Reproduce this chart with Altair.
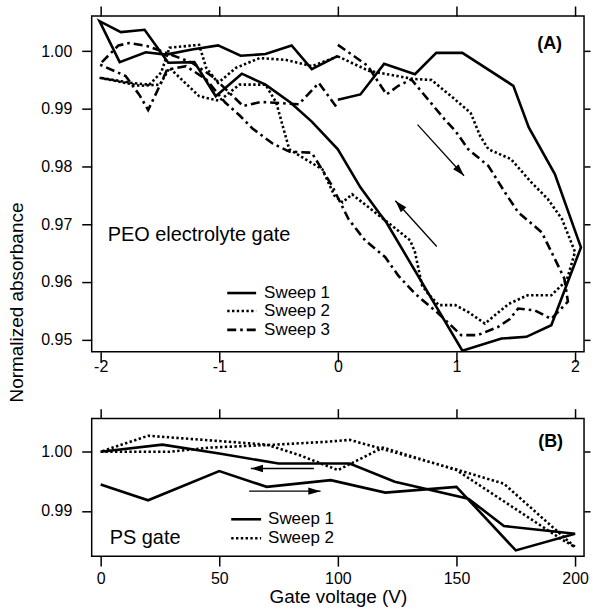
import math
import altair as alt
import pandas as pd

FONT = "Liberation Sans"

# ---------------- Panel (A): PEO electrolyte gate, sweeps 0 -> +2 -> -2 -> 0 V ----------------
a1_v = [0.00, 0.19, 0.39, 0.65, 0.83, 1.05, 1.48, 1.61, 1.83, 2.05, 1.80, 1.59, 1.38, 1.05,
        0.41, 0.35, 0.19, 0.00, -0.22, -0.40, -0.61, -0.81, -1.03, -1.21, -1.43, -1.63, -1.83,
        -2.01, -1.84, -1.62, -1.45, -1.23, -1.01, -0.82, -0.61, -0.39, -0.22, 0.00]
a1_a = [0.9916, 0.9925, 0.9978, 0.9960, 0.9997, 0.9997, 0.9940, 0.9868, 0.9787, 0.9660, 0.9525,
        0.9505, 0.9502, 0.9481, 0.9703, 0.9719, 0.9764, 0.9830, 0.9878, 0.9911, 0.9942, 0.9961,
        0.9922, 0.9981, 0.9980, 1.0037, 1.0033, 1.0052, 0.9981, 0.9998, 0.9994, 1.0003, 1.0010,
        0.9992, 0.9995, 1.0010, 0.9969, 0.9992]

a2_v = [0.00, 0.26, 0.63, 0.79, 0.99, 1.12, 1.20, 1.27, 1.46, 1.63, 1.77, 1.89, 2.00, 1.93, 1.80,
        1.60, 1.44, 1.24, 1.10, 0.99, 0.85, 0.76, 0.71, 0.65, 0.61, 0.49, 0.12, 0.04, -0.03, -0.13,
        -0.41, -0.52, -0.61, -0.83, -1.00, -1.17, -1.42, -1.50, -1.67, -2.01, -1.74, -1.59, -1.49,
        -1.42, -1.17, -1.11, -1.01, -0.86, -0.66, -0.44, -0.22, 0.00]
a2_a = [0.9991, 0.9966, 0.9952, 0.9950, 0.9916, 0.9893, 0.9853, 0.9830, 0.9813, 0.9773, 0.9744,
        0.9709, 0.9652, 0.9603, 0.9577, 0.9577, 0.9562, 0.9528, 0.9548, 0.9560, 0.9560, 0.9580,
        0.9594, 0.9652, 0.9672, 0.9692, 0.9752, 0.9738, 0.9750, 0.9795, 0.9830, 0.9911, 0.9942,
        0.9942, 0.9914, 0.9922, 0.9971, 0.9942, 0.9940, 0.9954, 0.9945, 0.9942, 0.9963, 1.0006,
        1.0011, 0.9971, 0.9945, 0.9971, 0.9988, 0.9985, 0.9974, 0.9991]

a3_v = [0.00, 0.25, 0.41, 0.51, 0.62, 0.90, 0.99, 1.10, 1.27, 1.41, 1.52, 1.72, 1.83, 1.91, 1.94,
        1.80, 1.66, 1.52, 1.45, 1.35, 1.18, 1.04, 0.85, 0.65, 0.51, 0.40, 0.23, 0.09, -0.05, -0.22,
        -0.41, -0.55, -0.72, -0.83, -0.95, -1.11, -1.28, -1.44, -1.53, -1.60, -1.67, -1.79, -2.01,
        -1.85, -1.76, -1.61, -1.42, -1.23, -1.05, -0.80, -0.65, -0.33, -0.16, 0.00]
a3_a = [1.0011, 0.9975, 0.9925, 0.9940, 0.9951, 0.9882, 0.9862, 0.9830, 0.9801, 0.9755, 0.9721,
        0.9686, 0.9640, 0.9606, 0.9566, 0.9536, 0.9551, 0.9554, 0.9536, 0.9522, 0.9508, 0.9508,
        0.9545, 0.9580, 0.9611, 0.9643, 0.9672, 0.9709, 0.9767, 0.9824, 0.9826, 0.9840, 0.9866,
        0.9889, 0.9911, 0.9951, 0.9974, 0.9968, 0.9928, 0.9898, 0.9923, 0.9957, 0.9977, 1.0010,
        1.0014, 1.0009, 0.9995, 0.9980, 0.9955, 0.9905, 0.9912, 0.9908, 0.9945, 0.9900]

# sweep-direction arrows (tail -> head)
arrA_v0 = [0.672, 0.834]
arrA_a0 = [0.98727, 0.96615]
arrA_v1 = [1.064, 0.485]
arrA_a1 = [0.97841, 0.97409]

# ---------------- Panel (B): PS gate, sweeps 0 -> 200 -> 0 V ----------------
b1_v = [0, 20, 50, 70, 97, 120, 150, 175, 200, 170, 155, 124, 105, 75, 50, 26, 0]
b1_a = [0.99446, 0.99180, 0.99673, 0.99407, 0.99520, 0.99310, 0.99407, 0.98334, 0.98616,
        0.98746, 0.99208, 0.99492, 0.99800, 0.99800, 0.99970, 1.00120, 1.00000]

b2_v = [0, 29, 46, 74, 96, 105, 150, 170, 200, 194, 150, 119, 100, 84, 70, 20, 0]
b2_a = [1.0000, 1.0000, 1.0007, 1.0012, 1.0017, 1.0020, 0.9970, 0.9946, 0.9839,
        0.9853, 0.9969, 1.0007, 0.9969, 0.9994, 1.0012, 1.0027, 1.0000]

arrB_v0 = [89.9, 62.6]
arrB_a0 = [0.99717, 0.99334]
arrB_v1 = [63.3, 92.7]
arrB_a1 = [0.99717, 0.99334]

legend_A = ["Sweep 1", "Sweep 2", "Sweep 3"]
legend_B = ["Sweep 1", "Sweep 2"]

# ---------------- geometry / styles ----------------
W = 494
HA, HB = 337, 138
XA = alt.Scale(domain=[-2.076, 2.076], nice=False, zero=False)
YA = alt.Scale(domain=[0.9479, 1.0061], nice=False, zero=False)
XB = alt.Scale(domain=[-3.78, 203.78], nice=False, zero=False)
YB = alt.Scale(domain=[0.98237, 1.00559], nice=False, zero=False)

SOLID = {}
DOTTED = {"strokeDash": [2.4, 2.4]}
DASHDOT = {"strokeDash": [9, 4, 2.6, 4]}
LW = 2.6
ARROW = "M0,0L-2,-0.6L-2,0.6Z"

A_xticks = [-2, -1, 0, 1, 2]
A_yticks = [0.95, 0.96, 0.97, 0.98, 0.99, 1.00]
B_xticks = [0, 50, 100, 150, 200]
B_yticks = [0.99, 1.00]


def sweep_frame(v, a):
    return pd.DataFrame({"v": v, "a": a, "i": list(range(len(v)))})


def sweep_line(v, a, style, xs, ys, xaxis=None, yaxis=None):
    return alt.Chart(sweep_frame(v, a)).mark_line(
        color="black", strokeWidth=LW, **style
    ).encode(
        x=alt.X("v:Q", scale=xs, axis=xaxis),
        y=alt.Y("a:Q", scale=ys, axis=yaxis),
        order="i:Q",
    )


def arrows(v0, a0, v1, a1, xs, ys, px_v, px_a):
    df = pd.DataFrame({"v0": v0, "a0": a0, "v1": v1, "a1": a1})
    df["ang"] = [
        math.degrees(math.atan2(-(y1 - y0) * px_a, (x1 - x0) * px_v)) % 360
        for x0, y0, x1, y1 in zip(v0, a0, v1, a1)
    ]
    shaft = alt.Chart(df).mark_rule(color="black", strokeWidth=1.3).encode(
        x=alt.X("v0:Q", scale=xs, axis=None),
        y=alt.Y("a0:Q", scale=ys, axis=None),
        x2="v1:Q",
        y2="a1:Q",
    )
    head = alt.Chart(df).mark_point(
        shape=ARROW, filled=True, size=150, color="black", opacity=1, strokeWidth=0
    ).encode(
        x=alt.X("v1:Q", scale=xs, axis=None),
        y=alt.Y("a1:Q", scale=ys, axis=None),
        angle=alt.Angle("ang:Q", scale=None),
    )
    return [shaft, head]


def key_entry(label, style, x0, x1, xt, y):
    df = pd.DataFrame({"t": [label]})
    line = alt.Chart(df).mark_rule(color="black", strokeWidth=LW, **style).encode(
        x=alt.value(x0), x2=alt.value(x1), y=alt.value(y)
    )
    text = alt.Chart(df).mark_text(
        align="left", baseline="middle", font=FONT, fontSize=17, color="black"
    ).encode(x=alt.value(xt), y=alt.value(y), text="t:N")
    return [line, text]


def note(label, x, y, size=20, weight="normal"):
    return alt.Chart(pd.DataFrame({"t": [label]})).mark_text(
        align="left", baseline="middle", font=FONT, fontSize=size, fontWeight=weight,
        color="black",
    ).encode(x=alt.value(x), y=alt.value(y), text="t:N")


def tick_axes(orient, values, size=10):
    return alt.Axis(orient=orient, values=values, labels=False, title=None, tickSize=size)


# ---------------- Panel (A) ----------------
axA_bottom = alt.Axis(orient="bottom", values=A_xticks, labelExpr="toString(datum.value)",
                      title=None, labelPadding=-3)
axA_left = alt.Axis(orient="left", values=A_yticks, format=".2f", labelPadding=10,
                    title="Normalized absorbance", titleX=-75, titleY=287, titleAngle=270,
                    titleAlign="center", titleBaseline="middle")

layersA = [
    sweep_line(a1_v, a1_a, SOLID, XA, YA, axA_bottom, axA_left),
    sweep_line(a2_v, a2_a, DOTTED, XA, YA, tick_axes("top", A_xticks),
               tick_axes("right", A_yticks, 6)),
    sweep_line(a3_v, a3_a, DASHDOT, XA, YA),
]
layersA += arrows(arrA_v0, arrA_a0, arrA_v1, arrA_a1, XA, YA, W / 4.152, HA / 0.0582)
for lab, sty, y in zip(legend_A, [SOLID, DOTTED, DASHDOT], [278, 296, 315]):
    layersA += key_entry(lab, sty, 136, 165, 173, y)
layersA.append(note("PEO electrolyte gate", 16, 220))
layersA.append(note("(A)", 447, 28, size=18, weight="bold"))

panelA = alt.layer(*layersA).properties(width=W, height=HA).resolve_axis(
    x="independent", y="independent"
)

# ---------------- Panel (B) ----------------
axB_bottom = alt.Axis(orient="bottom", values=B_xticks, format="d", labelPadding=4,
                      title="Gate voltage (V)", titlePadding=2)
axB_left = alt.Axis(orient="left", values=B_yticks, format=".2f", labelPadding=10, title=None)

layersB = [
    sweep_line(b1_v, b1_a, SOLID, XB, YB, axB_bottom, axB_left),
    sweep_line(b2_v, b2_a, DOTTED, XB, YB, tick_axes("top", B_xticks),
               tick_axes("right", B_yticks, 6)),
]
layersB += arrows(arrB_v0, arrB_a0, arrB_v1, arrB_a1, XB, YB, W / 207.56, HB / 0.02322)
for lab, sty, y in zip(legend_B, [SOLID, DOTTED], [101, 120]):
    layersB += key_entry(lab, sty, 140, 170, 177, y)
layersB.append(note("PS gate", 18, 120))
layersB.append(note("(B)", 448, 23, size=18, weight="bold"))

panelB = alt.layer(*layersB).properties(width=W, height=HB).resolve_axis(
    x="independent", y="independent"
)

chart = (
    alt.vconcat(panelA, panelB, spacing=67, bounds="flush")
    .resolve_scale(x="independent", y="independent")
    .configure_view(stroke="black", strokeWidth=1.5)
    .configure_axis(
        grid=False, domain=False, tickColor="black", tickWidth=1.5, tickSize=10,
        labelFont=FONT, labelFontSize=16, labelColor="black",
        titleFont=FONT, titleFontSize=19, titleFontWeight="normal", titleColor="black",
    )
    .properties(padding={"left": 7, "right": 0, "top": 3, "bottom": 0}, background="white")
)

chart.save("out.html", embed_options={"renderer": "svg", "actions": False})
